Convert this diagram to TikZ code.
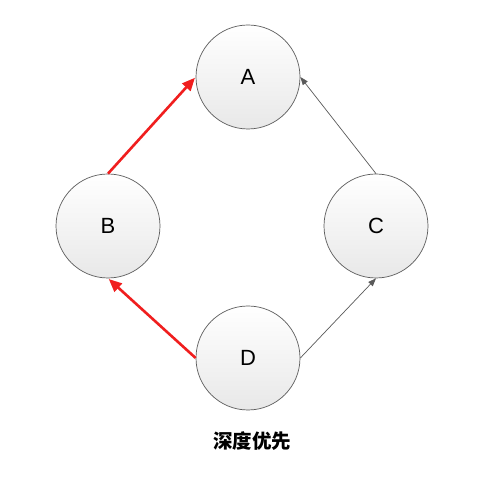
\documentclass[tikz,border=0pt]{standalone}
\usepackage{fontspec}
\setmainfont{Liberation Sans}
\newfontfamily\cjk{Noto Sans CJK SC}
\usetikzlibrary{arrows.meta}
\definecolor{redarrow}{HTML}{F01E1E}
\definecolor{grayline}{HTML}{5A5A5A}
\tikzset{
  vertex/.style={circle, draw=grayline, line width=0.7pt, minimum size=104pt, inner sep=0pt,
    top color=white, bottom color=black!9, font=\fontsize{22}{22}\selectfont},
  rededge/.style={draw=redarrow, line width=2.6pt, -{Triangle[length=13pt,width=11pt]}, shorten >=1pt},
  grayedge/.style={draw=grayline, line width=0.7pt, -{Triangle[length=8pt,width=6pt]}},
  caption/.style={font=\cjk\bfseries\fontsize{19.5}{19.5}\selectfont}
}
\begin{document}
\begin{tikzpicture}[x=1pt,y=-1pt]
\useasboundingbox (0,0) rectangle (483,481);
\fill[white] (0,0) rectangle (483,481);
\node[vertex] (A) at (248,77) {A};
\node[vertex] (B) at (108,226) {B};
\node[vertex] (C) at (376,226) {C};
\node[vertex] (D) at (248,358) {D};
\node[caption] (cap) at (252,441) {深度优先};
\draw[rededge] (B.north) -- (A.west);
\draw[rededge] (D.west) -- (B.south);
\draw[grayedge] (C.north) -- (A.east);
\draw[grayedge] (D.east) -- (C.south);
\end{tikzpicture}
\end{document}
